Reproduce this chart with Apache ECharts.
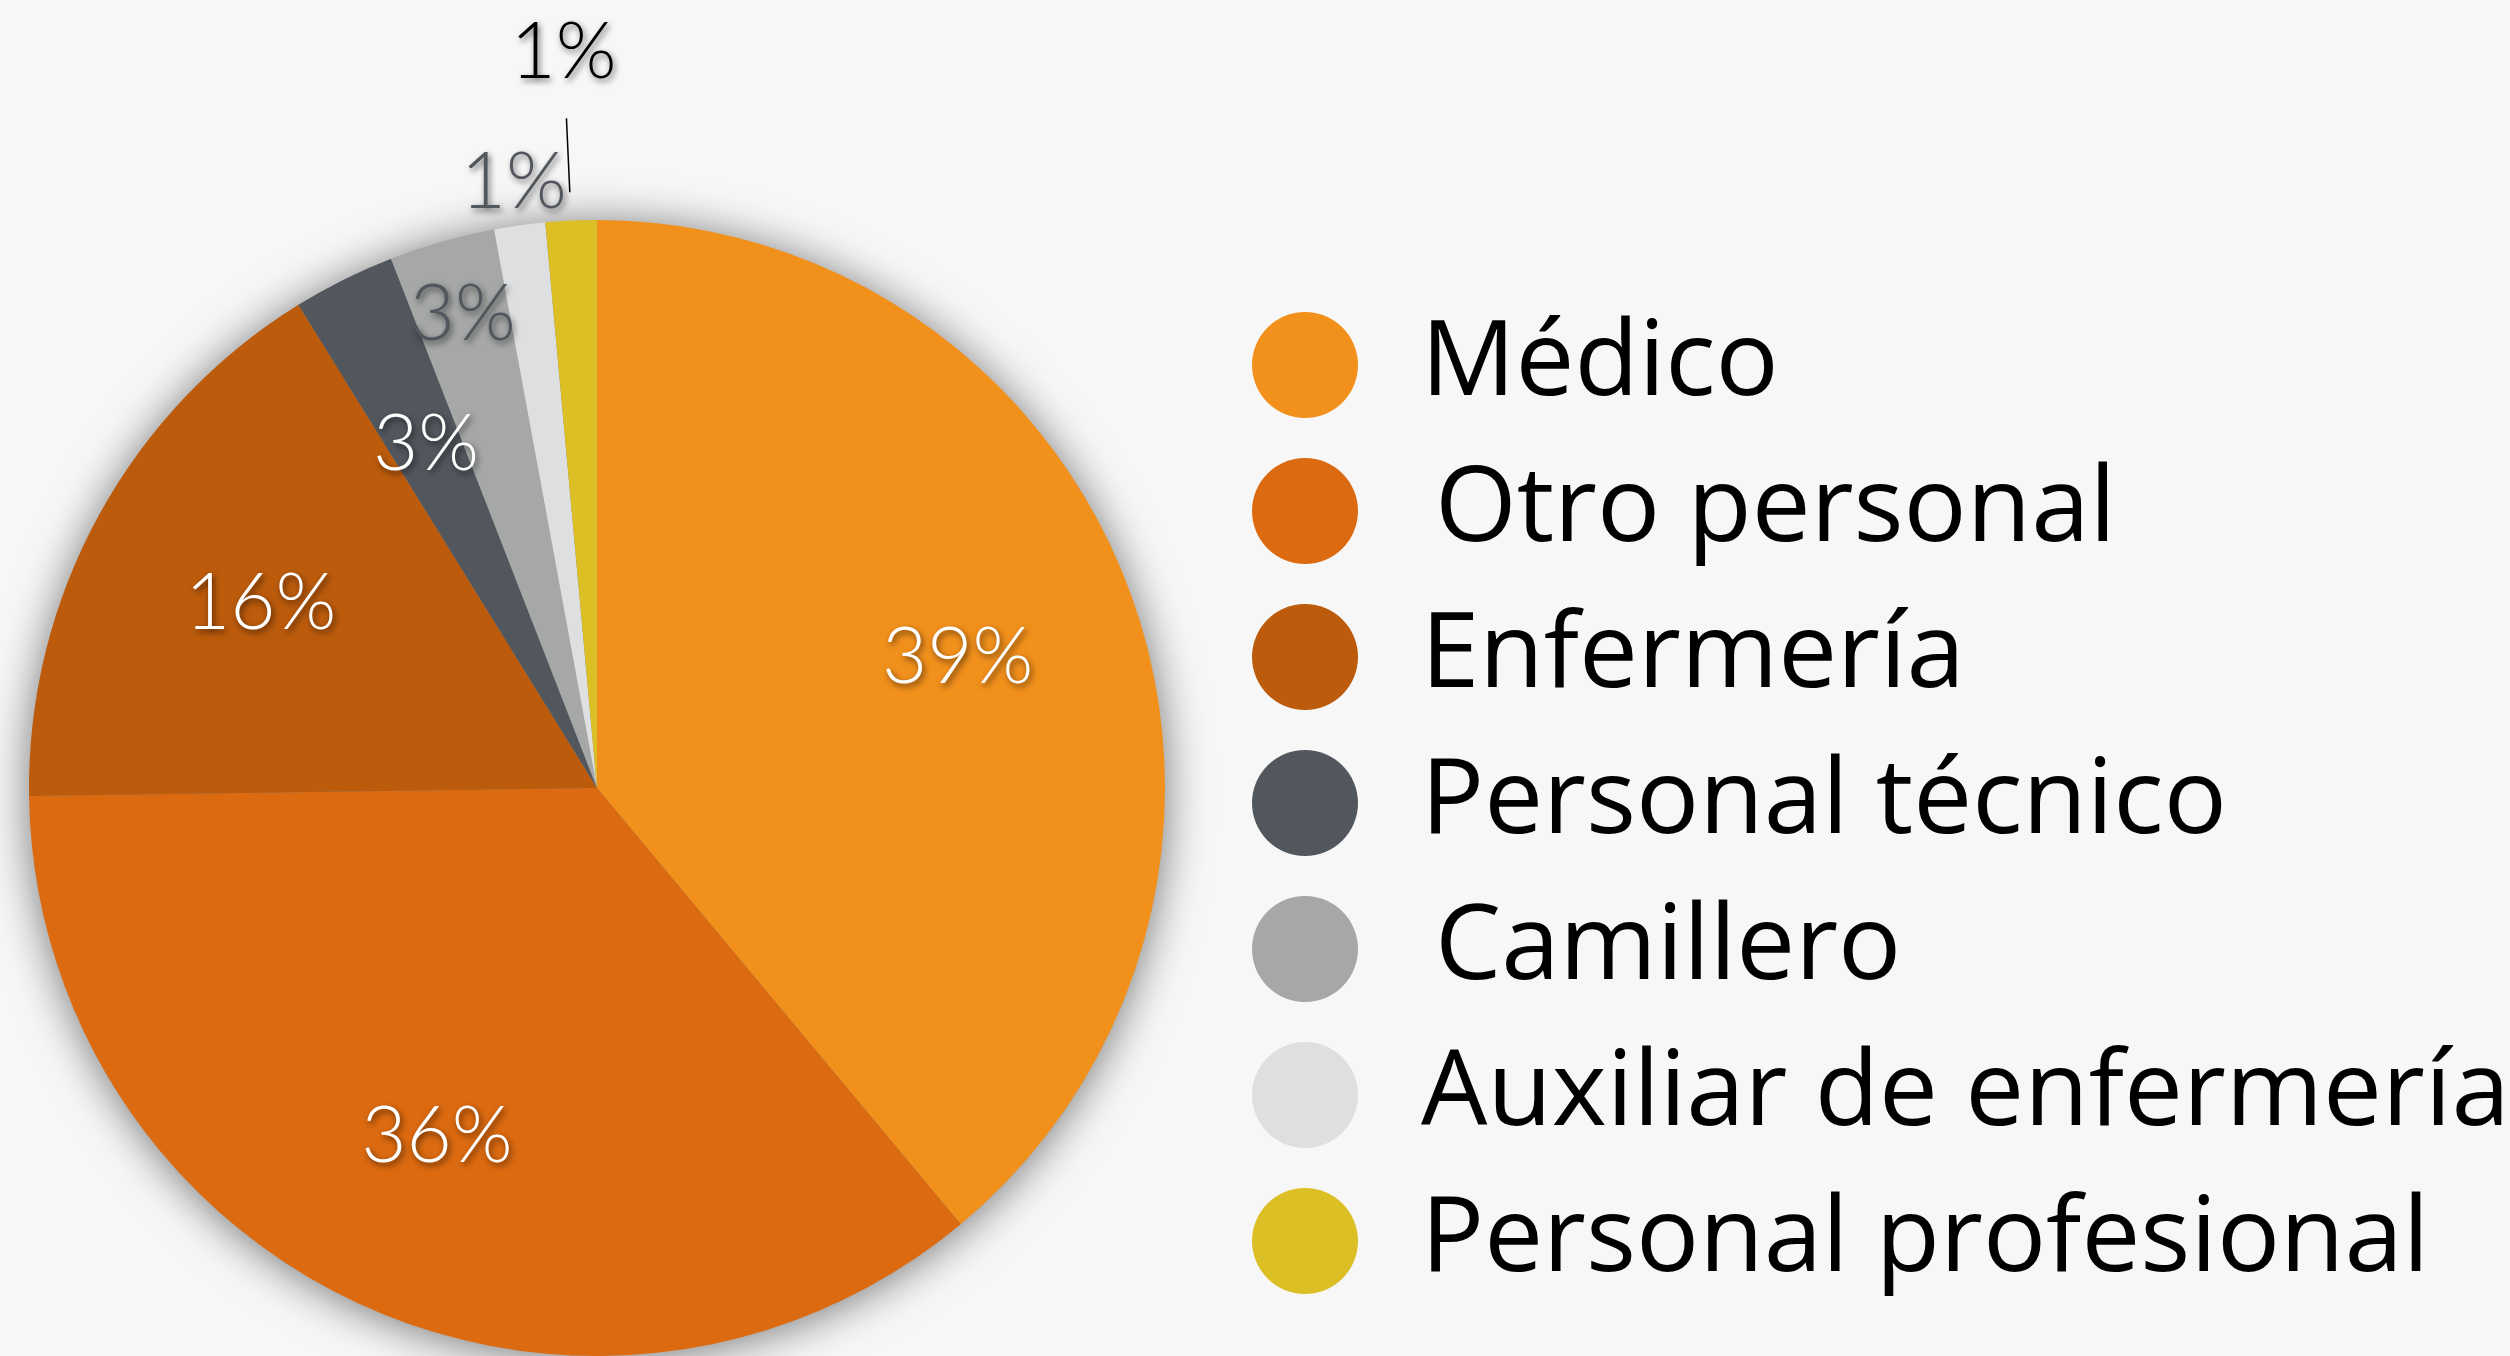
<!DOCTYPE html>
<html>
<head>
<meta charset="utf-8">
<script src="https://cdn.jsdelivr.net/npm/echarts@6/dist/echarts.min.js"></script>
<style>
  html, body { margin: 0; padding: 0; background: #f7f7f7; }
  #grafico { width: 2510px; height: 1356px; }
</style>
</head>
<body>
<div id="grafico"></div>
<script>
// datos
var categorias = ['Médico', 'Otro personal', 'Enfermería', 'Personal técnico', 'Camillero', 'Auxiliar de enfermería', 'Personal profesional'];
var valores = [38.9, 35.8, 16.4, 2.9, 3.0, 1.45, 1.45];
var colores = ['#F2901C', '#DC6A10', '#BC5B0C', '#52575E', '#A5A8A7', '#DEDFE0', '#DCBE25'];
// en el original dos textos de la leyenda van algo mas a la derecha
var sangria = [0, 1, 0, 0, 1, 0, 0];

var fuente = 'Lato, "Open Sans", sans-serif';
var fuenteLeyenda = '"Open Sans", Lato, sans-serif';
var centro = [597, 788];
var R = 568;

var sombraTexto = {
  textShadowColor: 'rgba(0,0,0,0.6)',
  textShadowBlur: 6,
  textShadowOffsetX: 2,
  textShadowOffsetY: 3
};

// capa transparente que solo sirve para colocar etiquetas
function capa(radio, indices, color, extra) {
  var data = categorias.map(function (nombre, i) {
    return {
      name: nombre,
      value: valores[i],
      label: { show: indices.indexOf(i) >= 0 },
      labelLine: { show: indices.indexOf(i) >= 0 }
    };
  });
  var s = {
    type: 'pie',
    center: centro,
    radius: radio,
    silent: true,
    z: 3,
    avoidLabelOverlap: false,
    data: data,
    itemStyle: { color: 'rgba(0,0,0,0)' },
    label: Object.assign({
      position: 'inside',
      rotate: 0,
      color: color,
      fontFamily: fuente,
      fontWeight: 300,
      fontSize: 78,
      formatter: function (p) { return Math.round(p.value) + '%'; }
    }, sombraTexto),
    labelLine: { show: false },
    emphasis: { disabled: true }
  };
  if (extra) Object.assign(s, extra);
  return s;
}

var chart = echarts.init(document.getElementById('grafico'));

var option = {
  backgroundColor: '#f7f7f7',
  animation: false,
  color: colores,
  legend: {
    data: categorias.map(function (nombre, i) {
      return { name: nombre, textStyle: { padding: [0, 0, 0, 58 + sangria[i] * 14] } };
    }),
    orient: 'vertical',
    left: 1247,
    top: 307,
    icon: 'circle',
    itemWidth: 106,
    itemHeight: 106,
    itemGap: 40,
    selectedMode: false,
    textStyle: {
      fontFamily: fuenteLeyenda,
      fontWeight: 400,
      fontSize: 105,
      lineHeight: 106,
      color: '#000',
      padding: [0, 0, 0, 58]
    }
  },
  series: [
    {
      name: 'Personal',
      type: 'pie',
      center: centro,
      radius: R,
      startAngle: 90,
      z: 2,
      silent: true,
      data: categorias.map(function (nombre, i) {
        return { name: nombre, value: valores[i] };
      }),
      label: { show: false },
      labelLine: { show: false },
      emphasis: { disabled: true }
    },
    // sombra bajo el pastel
    {
      type: 'pie',
      center: centro,
      radius: R - 1,
      z: 1,
      silent: true,
      data: [{ name: '', value: 1 }],
      itemStyle: {
        color: '#888',
        shadowBlur: 45,
        shadowColor: 'rgba(0,0,0,0.55)',
        shadowOffsetY: 3
      },
      label: { show: false },
      labelLine: { show: false },
      emphasis: { disabled: true }
    },
    capa([R * 0.34, R], [0, 1, 2, 3], '#ffffff'),
    capa([R * 0.72, R], [4], '#52575E'),
    capa([R, R * 1.14], [5], '#52575E'),
    capa([R * 1.24, R * 1.34], [6], '#000000'),
    // linea guia del ultimo sector
    capa(R * 1.05, [6], '#000', {
      label: { position: 'outside', formatter: ' ', fontSize: 10 },
      labelLine: { show: true, length: 74, length2: 0, lineStyle: { color: '#000', width: 1.5 } }
    })
  ]
};

chart.setOption(option);
window.addEventListener('resize', function () {
  chart.resize();
});
</script>
</body>
</html>
